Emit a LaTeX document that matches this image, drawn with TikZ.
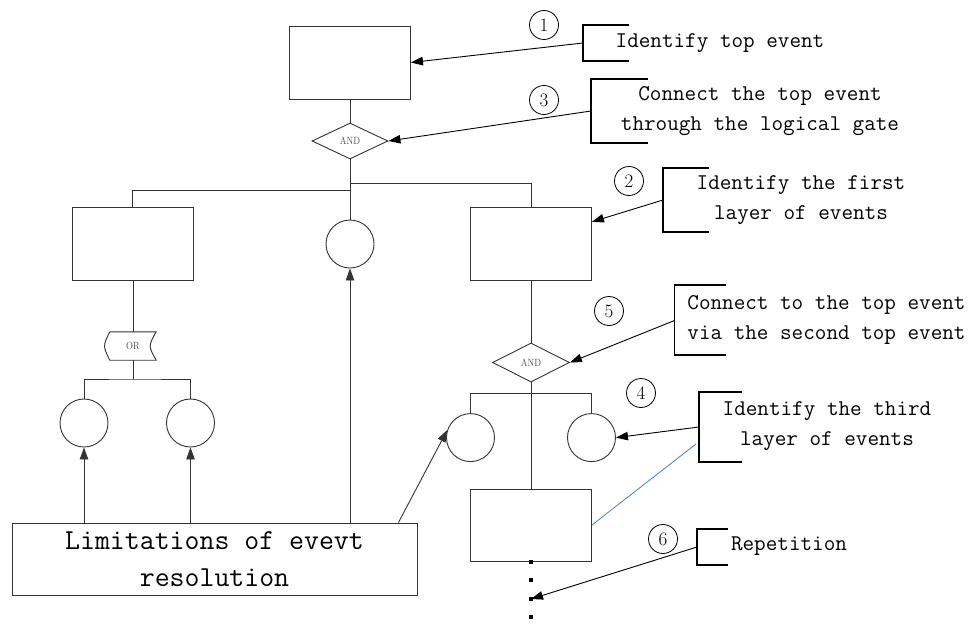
\documentclass[tikz,border=0pt]{standalone}
\usepackage{graphicx}
\usetikzlibrary{shapes.geometric,arrows.meta,calc}
\definecolor{linkblue}{HTML}{4A7EBB}
\begin{document}
\begin{tikzpicture}[x=1pt,y=-1pt,
  ln/.style={line width=0.9pt, draw=black!80},
  evbox/.style={ln, rectangle, inner sep=0, minimum width=121pt, minimum height=73pt},
  basic/.style={ln, circle, inner sep=0, minimum size=48pt},
  gatetext/.style={font=\fontsize{10.5}{10.5}\selectfont, text=black!70},
  andgate/.style={ln, diamond, inner sep=0, gatetext},
  num/.style={draw, circle, line width=0.8pt, inner sep=0, minimum size=29pt, font=\fontsize{19}{19}\selectfont},
  note/.style={font=\ttfamily\fontsize{22.5}{30}\selectfont, align=center, inner sep=0},
  brk/.style={line width=1.8pt},
  arr/.style={line width=0.9pt, -{Triangle[length=12pt,width=8.5pt]}},
]
\useasboundingbox (0,0) rectangle (971,634);

% ---- main tree ----
\node[evbox] (top) at (350,62.5) {};
\node[andgate, minimum width=76pt, minimum height=36pt] (g1) at (350,141) {\scalebox{0.85}[1]{AND}};
\node[evbox] (L1) at (132.5,244) {};
\node[basic] (C1) at (350,244) {};
\node[evbox] (R1) at (531,244) {};
\node[rectangle, inner sep=0, minimum width=46pt, minimum height=28pt, gatetext] (or) at (133,346) {\scalebox{0.85}[1]{OR}};
\node[basic] (LL) at (84,423) {};
\node[basic] (LR) at (190.5,423) {};
\node[andgate, minimum width=77pt, minimum height=39pt] (g2) at (531,362.5) {\scalebox{0.85}[1]{AND}};
\node[basic] (RL) at (470.5,437.6) {};
\node[basic] (RR) at (591.5,437.6) {};
\node[evbox, minimum height=72pt] (LB) at (531,525) {};
\node[ln, rectangle, inner sep=0, minimum width=405pt, minimum height=72pt,
      font=\ttfamily\fontsize{29}{37}\selectfont, align=center] (bot) at (214.5,559)
      {Limitations of evevt\\resolution};

% OR gate outline
\draw[ln] (or.north west) -- (or.north east)
  .. controls ($(or.east)+(-8,0)$) .. (or.south east)
  -- (or.south west)
  .. controls ($(or.west)+(-7,0)$) .. (or.north west);

% junctions
\coordinate (j1) at (350,183);
\coordinate (j2) at (350,190);
\coordinate (j3) at (133,379);
\coordinate (j4) at (531,393.5);

\draw[ln] (top.south) -- (g1.north);
\draw[ln] (g1.south) -- (C1.north);
\draw[ln] (j1) -| (R1.north);
\draw[ln] (j2) -| (L1.north);
\draw[ln] (L1.south -| or.north) -- (or.north);
\draw[ln] (or.south) -- (j3);
\draw[ln] (LL.north) |- (j3) -| (LR.north);
\draw[ln] (R1.south) -- (g2.north);
\draw[ln] (g2.south) -- (LB.north);
\draw[ln] (RL.north) |- (j4) -| (RR.north);

% dots
\coordinate (dot3) at (531,599);
\foreach \yy in {561.7,580,599,617}
  \fill (531,\yy) +(-1.9,-1.9) rectangle +(1.9,1.9);

% arrows from the bottom box
\draw[arr, draw=black!80] (LL.south |- bot.north) -- (LL.south);
\draw[arr, draw=black!80] (LR.south |- bot.north) -- (LR.south);
\draw[arr, draw=black!80] (C1.south |- bot.north) -- (C1.south);
\draw[arr, draw=black!80] ($(bot.north east)+(-19,0)$) -- (RL.162);

% ---- annotations ----
% 1
\coordinate (b1) at (583,43);
\draw[brk] (629,25) -- (583,25) -- (583,61) -- (629,61);
\node[num] (n1) at (544,25) {1};
\node[note] (t1) at (720,43) {Identify top event};
\draw[arr] (b1) -- (top.east);
% 3
\coordinate (b3) at (591,111);
\draw[brk] (648,79) -- (591,79) -- (591,143) -- (648,143);
\node[num] (n3) at (544,100) {3};
\node[note] (t3) at (760,111.5) {Connect the top event\\through the logical gate};
\draw[arr] (b3) -- (g1.east);
% 2
\coordinate (b2) at (663,200);
\draw[brk] (709,168) -- (663,168) -- (663,232) -- (709,232);
\node[num] (n2) at (629,181) {2};
\node[note] (t2) at (801,200) {Identify the first\\layer of events};
\draw[arr] (b2) -- (R1.20);
% 5
\coordinate (b5) at (674.5,320.5);
\draw[brk] (726,285) -- (674.5,285) -- (674.5,355) -- (726,355);
\node[num] (n5) at (609,311) {5};
\node[note, align=left] (t5) at (826.5,319.5) {Connect to the top event\\via the second top event};
\draw[arr] (b5) -- (g2.east);
% 4
\coordinate (b4) at (699,427);
\draw[brk] (742,392) -- (699,392) -- (699,462) -- (742,462);
\node[num] (n4) at (641,393) {4};
\node[note] (t4) at (827,426.5) {Identify the third\\layer of events};
\draw[arr] (b4) -- (RR.east);
\coordinate (bl) at (696,444);
\draw[linkblue, line width=0.8pt] (LB.east) -- (bl);
% 6
\coordinate (b6) at (697,547);
\draw[brk] (728,529) -- (697,529) -- (697,565) -- (728,565);
\node[num] (n6) at (663,539) {6};
\node[note] (t6) at (789,546) {Repetition};
\draw[arr] (b6) -- (dot3);
\end{tikzpicture}
\end{document}
